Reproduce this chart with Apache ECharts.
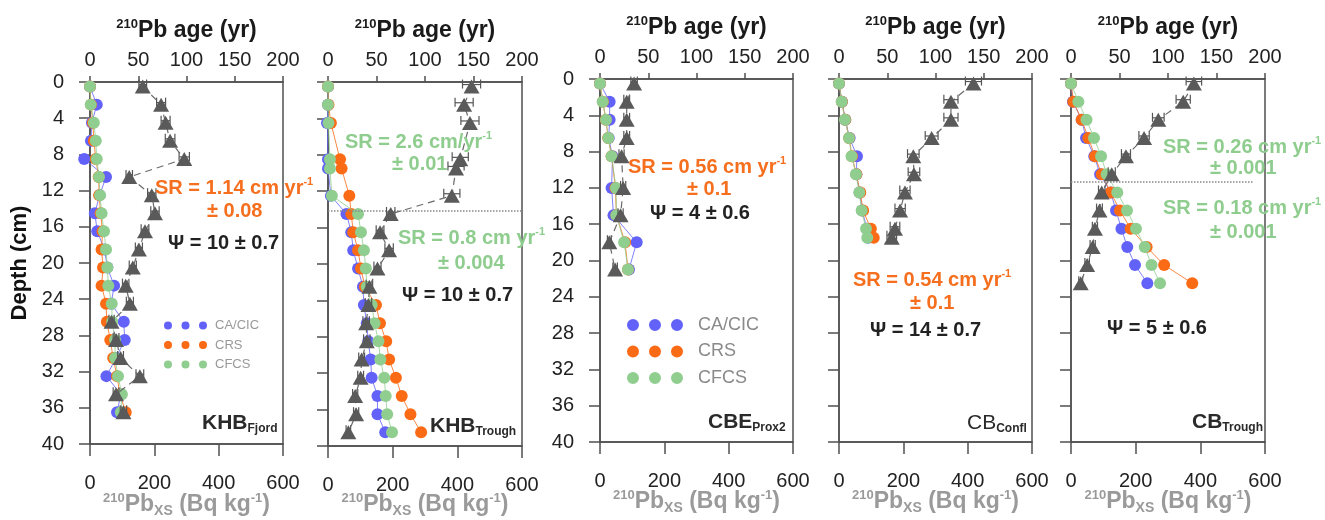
<!DOCTYPE html>
<html><head><meta charset="utf-8">
<script src="https://cdn.jsdelivr.net/npm/echarts@6/dist/echarts.min.js"></script>
<style>html,body{margin:0;padding:0;background:#fff}#c{width:1325px;height:520px}</style>
</head><body><div id="c"></div>
<script>
// ---------- data (depth in cm, ages in yr, 210Pbxs in Bq/kg) ----------
const panelNames = ['KHB', 'KHB', 'CBE', 'CB', 'CB'];
const panelSubs = ['Fjord', 'Trough', 'Prox2', 'Confl', 'Trough'];
const ageTicks = [0, 50, 100, 150, 200];
const pbTicks = [0, 200, 400, 600];
const depthTicks = [0, 4, 8, 12, 16, 20, 24, 28, 32, 36, 40];

// KHB Fjord
const fjordDepth = [0.5,2.5,4.5,6.5,8.5,10.5,12.5,14.5,16.5,18.5,20.5,22.5,24.5,26.5,28.5,30.5,32.5,34.5,36.5];
const fjordPbxs  = [164,221,235,249,293,122,192,202,171,152,133,111,124,67,81,95,155,81,104];
const fjordErr   = [12,14,14,15,16,10,13,13,12,11,11,10,11,8,9,9,12,9,10];
const fjordCIC   = [0,7,2,1,-6,16.6,10,5,7.5,15,18,25,22,35,36,27,17,32,28];
const fjordCRS   = [0,1,3,4,6,9,9.5,11,13,12,13.5,12,16.6,17.5,21,24,28,31,37];
const fjordCFCS  = [0,0.7,4,6,7,9.3,10.4,12,14.5,16.6,18,19,22.5,23,26,26,29,33,32];

// KHB Trough
const troughDepth = [0.5,2.5,4.5,8.5,9.5,12.5,14.5,16.5,18.5,20.5,22.5,24.5,26.5,28.5,30.5,32.5,34.5,36.5,38.5];
const troughPbxs  = [444,421,439,409,396,383,194,161,189,153,128,125,118,120,104,101,84,87,63];
const troughErr   = [28,28,28,25,25,25,13,12,13,11,10,10,10,10,9,9,8,8,7];
const troughCIC   = [0,0,-1,0,0,3,19,24,26,31,36,37,40,41.5,44,45,51,51,59];
const troughCRS   = [0,0.5,3,12.4,14,22,24,26,31,34,38,49.5,53.6,60,63,70,76,85,96];
const troughCFCS  = [0,0,0.5,2,2,4,31,34,37,39,40,45,48,52,54,58,59.5,61,66];

// CBE Prox2
const proxDepth = [0.5,2.5,4.5,6.5,8.5,12,15,18,21];
const proxPbxs  = [106,83,83,83,67,72,64,29,47];
const proxErr   = [10,9,9,9,8,8,8,6,7];
const proxCIC   = [0,10,10,9,13,12,14,38,30];
const proxCRS   = [0,3,6,8.5,12,16,17,26,29];
const proxCFCS  = [0,2.8,6.2,8.6,12,16.6,17,25,29];

// CB Confl
const conflDepth = [0.5,2.5,4.5,6.5,8.5,10.5,12.5,14.5,16.5,17.5];
const conflPbxs  = [418,348,348,288,231,233,205,190,174,164];
const conflErr   = [25,22,22,20,18,18,16,16,15,15];
const conflCIC   = [0,3,6.5,11,18.6,18,21.5,24,29,30];
const conflCRS   = [0,3,6.5,10.5,13.5,18,22,25,33,36];
const conflCFCS  = [0,2.8,6.2,10.4,13,17.6,21,23.5,28,29.3];

// CB Trough
const cbtDepth = [0.5,2.5,4.5,6.5,8.5,10.5,12.5,14.5,16.5,18.5,20.5,22.5];
const cbtPbxs  = [380,347,270,226,170,126,95,88,74,67,50,30];
const cbtErr   = [24,22,18,16,14,11,10,9,8,8,7,6];
const cbtCIC   = [0,2,11,15.5,24,30,41,46.4,52,58,66,78.7];
const cbtCRS   = [0,2.4,11,17.9,24.7,31.6,40.9,50.5,61.5,78,96,125];
const cbtCFCS  = [0,7.6,16,23.7,31,36.8,47.7,57.7,67,76,83,91.8];

// break depths (dotted lines)
const troughBreak = 14.2;
const cbtBreak = 11.35;

// ---------- styling ----------
const FF = 'Liberation Sans, Arial, sans-serif';
const BLUE = '#6262f8', ORANGE = '#fb6a14', GREEN = '#90ce90', TRI = '#5a5a5a', AX = '#505050';
const ORANGE_T = '#f56f1e', GREEN_T = '#8fcd8f';

const panels = [
  {depth: fjordDepth, pb: fjordPbxs, err: fjordErr, cic: fjordCIC, crs: fjordCRS, cfcs: fjordCFCS},
  {depth: troughDepth, pb: troughPbxs, err: troughErr, cic: troughCIC, crs: troughCRS, cfcs: troughCFCS},
  {depth: proxDepth, pb: proxPbxs, err: proxErr, cic: proxCIC, crs: proxCRS, cfcs: proxCFCS},
  {depth: conflDepth, pb: conflPbxs, err: conflErr, cic: conflCIC, crs: conflCRS, cfcs: conflCFCS},
  {depth: cbtDepth, pb: cbtPbxs, err: cbtErr, cic: cbtCIC, crs: cbtCRS, cfcs: cbtCFCS}
];
const gridPos = [
  {left: 90, top: 82, width: 193, height: 362},
  {left: 328, top: 82, width: 194, height: 364},
  {left: 600, top: 79, width: 193, height: 363},
  {left: 839, top: 79, width: 193, height: 363},
  {left: 1071, top: 79, width: 194, height: 363}
];

const grids = [], xAxes = [], yAxes = [], series = [];
gridPos.forEach((g, i) => {
  grids.push(Object.assign({show: true, borderColor: AX, borderWidth: 1.5, outerBoundsMode: 'none', containLabel: false}, g));
  const lab = {fontFamily: FF, fontSize: 20, color: '#222'};
  xAxes.push({gridIndex: i, type: 'value', position: 'top', min: ageTicks[0], max: ageTicks[ageTicks.length-1], interval: ageTicks[1]-ageTicks[0],
    axisLine: {show: true, onZero: false, lineStyle: {color: AX, width: 1.5}},
    axisTick: {show: true, inside: false, length: 6, lineStyle: {color: AX, width: 1.5}},
    axisLabel: Object.assign({margin: 12}, lab), splitLine: {show: false}});
  xAxes.push({gridIndex: i, type: 'value', position: 'bottom', min: pbTicks[0], max: pbTicks[pbTicks.length-1], interval: pbTicks[1]-pbTicks[0],
    axisLine: {show: true, onZero: false, lineStyle: {color: AX, width: 1.5}},
    axisTick: {show: true, inside: false, length: 12, lineStyle: {color: AX, width: 1.5}},
    axisLabel: Object.assign({margin: 29}, lab), splitLine: {show: false}});
  yAxes.push({gridIndex: i, type: 'value', inverse: true, min: depthTicks[0], max: depthTicks[depthTicks.length-1], interval: depthTicks[1]-depthTicks[0],
    name: i === 0 ? 'Depth (cm)' : '', nameLocation: 'middle', nameGap: 59,
    nameTextStyle: {fontFamily: FF, fontSize: 22, fontWeight: 'bold', color: '#111'},
    axisLine: {show: true, onZero: false, lineStyle: {color: AX, width: 1.5}},
    axisTick: {show: true, inside: false, length: 11, lineStyle: {color: AX, width: 1.5}},
    axisLabel: Object.assign({show: i === 0 || i === 2, margin: 26}, lab), splitLine: {show: false}});

  const p = panels[i];
  const mk = arr => arr.map((v, k) => [v, p.depth[k]]);
  const circ = (name, arr, col, z) => ({type: 'line', name, xAxisIndex: 2*i, yAxisIndex: i, data: mk(arr),
    symbol: 'circle', symbolSize: 12, showAllSymbol: true, clip: false, z,
    itemStyle: {color: col}, lineStyle: {color: col, width: 1, opacity: 0.8}, animation: false});
  series.push(circ('CA/CIC', p.cic, BLUE, 2));
  series.push(circ('CRS', p.crs, ORANGE, 3));
  series.push(circ('CFCS', p.cfcs, GREEN, 4));
  // error bars on 210Pbxs
  series.push({type: 'custom', name: 'err', xAxisIndex: 2*i+1, yAxisIndex: i, z: 5, silent: true, clip: false,
    data: p.pb.map((v, k) => [v, p.depth[k], p.err[k]]),
    renderItem: (params, api) => {
      const lo = api.coord([api.value(0) - api.value(2), api.value(1)]);
      const hi = api.coord([api.value(0) + api.value(2), api.value(1)]);
      const y = lo[1] - 2;
      const st = {stroke: '#555', lineWidth: 1.2};
      return {type: 'group', children: [
        {type: 'line', shape: {x1: lo[0], y1: y, x2: hi[0], y2: y}, style: st},
        {type: 'line', shape: {x1: lo[0], y1: y - 5, x2: lo[0], y2: y + 4}, style: st},
        {type: 'line', shape: {x1: hi[0], y1: y - 5, x2: hi[0], y2: y + 4}, style: st}
      ]};
    }});
  const tri = {type: 'line', name: '210Pbxs', xAxisIndex: 2*i+1, yAxisIndex: i, data: mk(p.pb),
    symbol: 'triangle', symbolSize: [16, 14], showAllSymbol: true, clip: false, z: 6,
    itemStyle: {color: TRI}, lineStyle: {color: '#6a6a6a', width: 1.2, type: [7, 5]}, animation: false};
  const ml = (d) => ({silent: true, symbol: 'none', animation: false, label: {show: false},
    lineStyle: {type: 'dotted', color: '#888', width: 1.5}, data: d});
  if (i === 1) tri.markLine = ml([{yAxis: troughBreak}]);
  if (i === 4) tri.markLine = ml([[{coord: [0, cbtBreak]}, {coord: [562, cbtBreak]}]]);
  series.push(tri);
});

// ---------- texts ----------
const R = {
  b: {fontFamily: FF, fontSize: 20, fontWeight: 'bold', lineHeight: 24},
  sp: {fontFamily: FF, fontSize: 11, fontWeight: 'bold', lineHeight: 12, verticalAlign: 'top'},
  t: {fontFamily: FF, fontSize: 23, fontWeight: 'bold', lineHeight: 27},
  tsp: {fontFamily: FF, fontSize: 13, fontWeight: 'bold', lineHeight: 14, verticalAlign: 'top'},
  tsb: {fontFamily: FF, fontSize: 14, fontWeight: 'bold', lineHeight: 14, verticalAlign: 'bottom'},
  L: {fontFamily: FF, fontSize: 21, fontWeight: 'bold', lineHeight: 24},
  Ln: {fontFamily: FF, fontSize: 21, fontWeight: 'normal', lineHeight: 24},
  Lsb: {fontFamily: FF, fontSize: 12, fontWeight: 'bold', lineHeight: 12, verticalAlign: 'bottom'}
};
function T(x, y, text, fill, align) {
  return {type: 'text', x, y, z: 100, silent: true,
    style: {text, fill, rich: R, fontFamily: FF, fontSize: 20, fontWeight: 'bold', align: align || 'left', verticalAlign: 'middle'}};
}
const graphics = [];
gridPos.forEach((g, i) => {
  const cx = g.left + g.width / 2;
  const ty = i < 2 ? 31 : 28, by = i < 2 ? 505 : 502;
  graphics.push(T(cx, ty, '{tsp|210}{t|Pb age (yr)}', '#1a1a1a', 'center'));
  graphics.push(T(cx, by, '{tsp|210}{t|Pb}{tsb|XS}{t| (Bq kg}{tsp|-1}{t|)}', '#9a9a9a', 'center'));
});
// panel labels
const labelPos = [[202, 423], [430, 426], [708, 422], [967, 423], [1192, 422]];
labelPos.forEach((lp, i) => {
  const st = i === 3 ? 'Ln' : 'L';
  graphics.push(T(lp[0], lp[1], '{' + st + '|' + panelNames[i] + '}{Lsb|' + panelSubs[i] + '}', '#2a2a2a'));
});
// annotations
graphics.push(T(155, 188, '{b|SR = 1.14 cm yr}{sp|-1}', ORANGE_T));
graphics.push(T(207, 211, '{b|± 0.08}', ORANGE_T));
graphics.push(T(168, 243, '{b|Ψ = 10 ± 0.7}', '#222'));

graphics.push(T(345, 142, '{b|SR = 2.6 cm/yr}{sp|-1}', GREEN_T));
graphics.push(T(392, 164, '{b|± 0.01}', GREEN_T));
graphics.push(T(398, 238, '{b|SR = 0.8 cm yr}{sp|-1}', GREEN_T));
graphics.push(T(438, 263, '{b|± 0.004}', GREEN_T));
graphics.push(T(402, 295, '{b|Ψ = 10 ± 0.7}', '#222'));

graphics.push(T(628, 167, '{b|SR = 0.56 cm yr}{sp|-1}', ORANGE_T));
graphics.push(T(687, 189, '{b|± 0.1}', ORANGE_T));
graphics.push(T(650, 213, '{b|Ψ = 4 ± 0.6}', '#222'));

graphics.push(T(853, 280, '{b|SR = 0.54 cm yr}{sp|-1}', ORANGE_T));
graphics.push(T(910, 303, '{b|± 0.1}', ORANGE_T));
graphics.push(T(870, 330, '{b|Ψ = 14 ± 0.7}', '#222'));

graphics.push(T(1163, 147, '{b|SR = 0.26 cm yr}{sp|-1}', GREEN_T));
graphics.push(T(1210, 168, '{b|± 0.001}', GREEN_T));
graphics.push(T(1163, 208, '{b|SR = 0.18 cm yr}{sp|-1}', GREEN_T));
graphics.push(T(1210, 232, '{b|± 0.001}', GREEN_T));
graphics.push(T(1107, 328, '{b|Ψ = 5 ± 0.6}', '#222'));

const icon1 = 'path://M0,4a4,4 0 1,0 8,0a4,4 0 1,0 -8,0zM17.5,4a4,4 0 1,0 8,0a4,4 0 1,0 -8,0zM35,4a4,4 0 1,0 8,0a4,4 0 1,0 -8,0z';
const icon2 = 'path://M0,6a6,6 0 1,0 12,0a6,6 0 1,0 -12,0zM22,6a6,6 0 1,0 12,0a6,6 0 1,0 -12,0zM44,6a6,6 0 1,0 12,0a6,6 0 1,0 -12,0z';
const legendNames = ['CA/CIC', 'CRS', 'CFCS'];

const chart = echarts.init(document.getElementById('c'), null, {renderer: 'canvas'});
chart.setOption({
  animation: false,
  backgroundColor: '#fff',
  grid: grids, xAxis: xAxes, yAxis: yAxes, series,
  legend: [
    {data: legendNames, orient: 'vertical', left: 164, top: 319, padding: 0, itemWidth: 43, itemHeight: 8, itemGap: 6.5,
      icon: icon1, selectedMode: false, textStyle: {fontFamily: FF, fontSize: 13, color: '#999', padding: [0, 0, 0, 3]}},
    {data: legendNames, orient: 'vertical', left: 627, top: 316, padding: 0, itemWidth: 56, itemHeight: 12, itemGap: 8.5,
      icon: icon2, selectedMode: false, textStyle: {fontFamily: FF, fontSize: 18, color: '#8a8a8a', padding: [0, 0, 0, 10]}}
  ],
  graphic: graphics
});
</script></body></html>
